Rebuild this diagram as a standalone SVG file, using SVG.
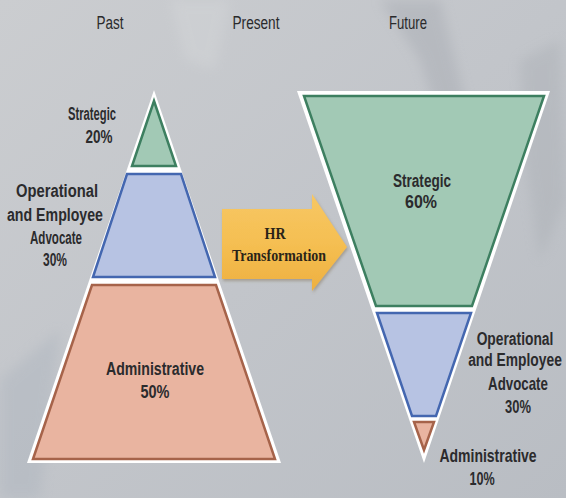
<svg xmlns="http://www.w3.org/2000/svg" width="566" height="498" viewBox="0 0 566 498">
  <defs>
    <linearGradient id="bg" x1="0" y1="0" x2="1" y2="1">
      <stop offset="0" stop-color="#cbcdd0"/>
      <stop offset="0.5" stop-color="#c2c5ca"/>
      <stop offset="1" stop-color="#b9bdc3"/>
    </linearGradient>
    <linearGradient id="arrowFill" x1="0" y1="0" x2="0" y2="1">
      <stop offset="0" stop-color="#f7c764"/>
      <stop offset="0.5" stop-color="#f5bf52"/>
      <stop offset="1" stop-color="#eeb040"/>
    </linearGradient>
    <filter id="soft" x="-20%" y="-20%" width="140%" height="140%">
      <feGaussianBlur stdDeviation="6"/>
    </filter>
    <filter id="arrowShadow" x="-10%" y="-10%" width="120%" height="130%">
      <feDropShadow dx="1" dy="2" stdDeviation="1.5" flood-color="#7a6a50" flood-opacity="0.45"/>
    </filter>
  </defs>
  <style>
    .lbl { font-family: "Liberation Sans", Arial, sans-serif; font-size: 17.5px; font-weight: bold; fill: #2b2b2d; text-anchor: middle; }
    .head { font-family: "Liberation Sans", Arial, sans-serif; font-size: 18px; fill: #2a2a2c; text-anchor: middle; }
    .outline { fill: #ffffff; }
    .green { fill: #a2c9b5; stroke: #3d7f60; stroke-width: 2.5; stroke-linejoin: miter; }
    .blue { fill: #b7c3e3; stroke: #4467b0; stroke-width: 2.5; stroke-linejoin: miter; }
    .red { fill: #e9b4a0; stroke: #a6634a; stroke-width: 2.5; stroke-linejoin: miter; }
    .arrowTxt { font-family: "Liberation Serif", "Times New Roman", serif; font-size: 17px; font-weight: bold; fill: #2a2418; text-anchor: middle; }
  </style>

  <!-- background -->
  <rect x="0" y="0" width="566" height="498" fill="url(#bg)"/>
  <g opacity="0.35" filter="url(#soft)">
    <path d="M380 0 L440 0 L470 120 L455 170 L420 60 Z" fill="#9fa3aa"/>
    <path d="M520 60 L560 40 L566 200 L540 260 L525 160 Z" fill="#a6aab0"/>
    <path d="M170 0 L230 0 L215 70 L185 60 Z" fill="#d8dadc"/>
    <path d="M0 380 L60 330 L40 498 L0 498 Z" fill="#a7b0bb"/>
  </g>

  <!-- column headings -->
  <g id="headings">
    <text class="head" x="110" y="29" textLength="27" lengthAdjust="spacingAndGlyphs">Past</text>
    <text class="head" x="256" y="29" textLength="47" lengthAdjust="spacingAndGlyphs">Present</text>
    <text class="head" x="408" y="29" textLength="38" lengthAdjust="spacingAndGlyphs">Future</text>
  </g>

  <!-- Past pyramid -->
  <g id="past-pyramid">
    <polygon class="outline" points="154,90 281,463 27,463"/>
    <g id="past-strategic">
      <polygon class="green" points="154,101 176,166 132,166"/>
    </g>
    <g id="past-operational">
      <polygon class="blue" points="127,174 181,174 215,277 93,277"/>
    </g>
    <g id="past-administrative">
      <polygon class="red" points="92,285 216,285 275,459 33,459"/>
    </g>
  </g>

  <!-- Future pyramid (inverted) -->
  <g id="future-pyramid">
    <polygon class="outline" points="297,91 550,91 424,463"/>
    <g id="future-strategic">
      <polygon class="green" points="304,96 544,96 472,306 376,306"/>
    </g>
    <g id="future-operational">
      <polygon class="blue" points="377,313 471,313 436,416 412,416"/>
    </g>
    <g id="future-administrative">
      <polygon class="red" points="414,422 434,422 424,450"/>
    </g>
  </g>

  <!-- transformation arrow -->
  <g id="connectors">
    <g id="hr-transformation">
      <polygon points="222,209 312,209 312,194 347,247 312,291 312,279 222,279" fill="url(#arrowFill)" filter="url(#arrowShadow)"/>
      <text class="arrowTxt" x="275" y="239" textLength="21" lengthAdjust="spacingAndGlyphs">HR</text>
      <text class="arrowTxt" x="279" y="261" textLength="94" lengthAdjust="spacingAndGlyphs">Transformation</text>
    </g>
  </g>

  <!-- labels: left column squeezed with textLength -->
  <g id="labels-past">
    <text class="lbl" x="92" y="120" textLength="48" lengthAdjust="spacingAndGlyphs">Strategic</text>
    <text class="lbl" x="99" y="143" textLength="27" lengthAdjust="spacingAndGlyphs">20%</text>
    <text class="lbl" x="57" y="197" textLength="82" lengthAdjust="spacingAndGlyphs">Operational</text>
    <text class="lbl" x="55" y="221" textLength="96" lengthAdjust="spacingAndGlyphs">and Employee</text>
    <text class="lbl" x="56" y="244" textLength="52" lengthAdjust="spacingAndGlyphs">Advocate</text>
    <text class="lbl" x="55" y="266" textLength="24" lengthAdjust="spacingAndGlyphs">30%</text>
    <text class="lbl" x="155" y="375" textLength="98" lengthAdjust="spacingAndGlyphs">Administrative</text>
    <text class="lbl" x="155" y="398" textLength="29" lengthAdjust="spacingAndGlyphs">50%</text>
  </g>
  <!-- labels: right column narrowed by a horizontal scale -->
  <g id="labels-future">
    <text class="lbl" x="422" y="187" textLength="58" lengthAdjust="spacingAndGlyphs">Strategic</text>
    <text class="lbl" x="421" y="208" textLength="32" lengthAdjust="spacingAndGlyphs">60%</text>
    <text class="lbl" transform="translate(515,345) scale(0.79,1)">Operational</text>
    <text class="lbl" transform="translate(515,366) scale(0.79,1)">and Employee</text>
    <text class="lbl" transform="translate(518,390) scale(0.76,1)">Advocate</text>
    <text class="lbl" transform="translate(518,413) scale(0.74,1)">30%</text>
    <text class="lbl" transform="translate(488,462) scale(0.8,1)">Administrative</text>
    <text class="lbl" transform="translate(482,485) scale(0.72,1)">10%</text>
  </g>
</svg>
